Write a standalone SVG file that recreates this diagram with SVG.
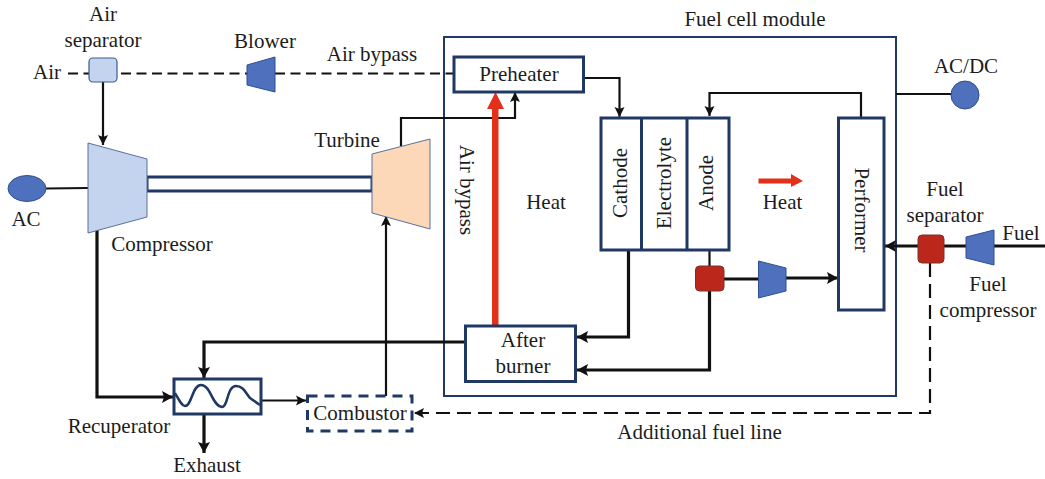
<svg xmlns="http://www.w3.org/2000/svg" width="1045" height="479" viewBox="0 0 1045 479">
<style>
text{font-family:"Liberation Serif","Times New Roman",serif;font-size:21px;fill:#1c1c1c;text-anchor:middle}
.box{fill:#fff;stroke:#1f3864;stroke-width:3}
.thin{fill:none;stroke:#1f3864;stroke-width:2}
.c{fill:none;stroke:#111;stroke-width:2.200}
.t{fill:none;stroke:#111;stroke-width:3.200}
.d{fill:none;stroke:#111;stroke-width:2.200;stroke-dasharray:10 5.500}
.d2{fill:none;stroke:#111;stroke-width:2.200;stroke-dasharray:14 7}
.blue{fill:#4f71bd;stroke:#2f4f8f;stroke-width:1}
.lb{fill:#c5d4ee;stroke:#3d5a8f;stroke-width:1.200}
.red{fill:#bb271a;stroke:#7a3030;stroke-width:1}
</style>
<defs>
<marker id="a" markerUnits="userSpaceOnUse" markerWidth="11" markerHeight="12" refX="10" refY="6" orient="auto"><path d="M0 1L10 6L0 11L2 6Z" fill="#111"/></marker>
<marker id="b" markerUnits="userSpaceOnUse" markerWidth="12" markerHeight="14" refX="11" refY="7" orient="auto"><path d="M0 1L11 7L0 13L2 7Z" fill="#111"/></marker>
</defs>
<g id="fuel-cell-module"><rect class="thin" x="444" y="37" width="452" height="359"/><text x="755" y="26">Fuel cell module</text></g>
<g id="connectors">
<path class="d" d="M68 73.500H89M121 73.500H247M275 73.500H454"/>
<path class="c" d="M103 82V145" marker-end="url(#a)"/>
<path class="c" d="M46 188.500L88 188"/>
<path class="c" d="M401 146V118H515V92" marker-end="url(#a)"/>
<path class="c" d="M584 78H619.500V117" marker-end="url(#a)"/>
<path class="c" d="M861 118V93H709.500V116" marker-end="url(#a)"/>
<path class="c" d="M896 94H952"/>
<path class="t" d="M1045 246H994M966 246H944M918 246H885" marker-end="url(#b)"/>
<path class="d2" d="M930 263V413H414" marker-end="url(#a)"/>
<path class="c" d="M709.500 250V266"/>
<path class="t" d="M709.500 291V370H577" marker-end="url(#b)"/>
<path class="t" d="M628.500 250V337H577" marker-end="url(#b)"/>
<path class="t" d="M724 279H758"/>
<path class="t" d="M786 278H838" marker-end="url(#b)"/>
<path class="t" d="M465 342H204V378" marker-end="url(#b)"/>
<path class="t" d="M97 229V397H173" marker-end="url(#b)"/>
<path class="c" d="M261 400.500H306" marker-end="url(#a)"/>
<path class="c" d="M386 396V216" marker-end="url(#a)"/>
<path class="t" d="M204 414V453" marker-end="url(#b)"/>
<path d="M492 326V109H487L495.500 92L504 109H498.500V326Z" fill="#e2301a"/>
<path d="M758.500 178.500H791V174L803 181L791 187V183.500H758.500Z" fill="#e2301a"/>
</g>
<g id="shaft"><rect class="box" x="147" y="177" width="225" height="14"/></g>
<g id="air-separator"><rect class="lb" x="89" y="58" width="28" height="24" rx="4"/><text x="103" y="21">Air</text><text x="103" y="47">separator</text></g>
<g id="air-label"><text x="47" y="79">Air</text></g>
<g id="blower"><polygon class="blue" points="247,65 275,57 275,92 247,85"/><text x="265" y="48">Blower</text></g>
<g id="air-bypass-label"><text x="372" y="61">Air bypass</text></g>
<g id="compressor"><polygon fill="#c5d4ee" stroke="#5a6f9f" points="88,143 147,159 147,217 88,233"/><text x="162" y="251">Compressor</text></g>
<g id="ac"><ellipse class="blue" cx="27" cy="188.500" rx="19" ry="13"/><text x="26" y="226">AC</text></g>
<g id="turbine"><polygon fill="#fdd8b8" stroke="#5a6f9f" points="372,154 430,139 430,229 372,213"/><text x="347" y="147">Turbine</text></g>
<g id="preheater"><rect class="box" x="454" y="57" width="129.500" height="35"/><text x="519" y="81">Preheater</text></g>
<g id="air-bypass-vertical"><text transform="translate(460 190) rotate(90)">Air bypass</text></g>
<g id="heat-left"><text x="546" y="209">Heat</text></g>
<g id="cell"><rect class="box" x="601" y="118" width="128" height="132"/><path class="box" d="M641.500 118V250M687 118V250"/>
<text transform="translate(627 183) rotate(-90)">Cathode</text><text transform="translate(670.500 183) rotate(-90)">Electrolyte</text><text transform="translate(713 183) rotate(-90)">Anode</text></g>
<g id="heat-right"><text x="782.500" y="209">Heat</text></g>
<g id="performer"><rect class="box" x="838.500" y="118" width="45.500" height="192"/><text transform="translate(855 210) rotate(90)">Performer</text></g>
<g id="ac-dc"><circle class="blue" cx="965" cy="95" r="14"/><text x="966" y="73">AC/DC</text></g>
<g id="fuel-separator"><rect class="red" x="918" y="235" width="26" height="28" rx="4"/><text x="945" y="196">Fuel</text><text x="945" y="222">separator</text></g>
<g id="fuel-compressor"><polygon class="blue" points="966,237 994,230 994,265 966,258"/><text x="988" y="291">Fuel</text><text x="988" y="317">compressor</text></g>
<g id="fuel-label"><text x="1021" y="240">Fuel</text></g>
<g id="anode-separator"><rect class="red" x="695.500" y="266" width="28.500" height="25" rx="4"/></g>
<g id="anode-compressor"><polygon class="blue" points="758.500,261 786,268 786,291 758.500,298"/></g>
<g id="after-burner"><rect class="box" x="465.500" y="326" width="110" height="55.500"/><text x="523" y="347">After</text><text x="523" y="373">burner</text></g>
<g id="recuperator"><rect class="box" x="174" y="379" width="87" height="35"/><path d="M175 393C179 400 182 406 185 406C192 406 192 385 201 385C211 385 212 406 222 407C228 407 227 386 236 386C244 386 246 394 250 398C254 401 257 403 260 405" fill="none" stroke="#1f3864" stroke-width="2.500"/><text x="119" y="433">Recuperator</text></g>
<g id="exhaust"><text x="207" y="472">Exhaust</text></g>
<g id="combustor"><rect x="307.500" y="396" width="104.500" height="35" fill="#fff" stroke="#1f3864" stroke-width="3" stroke-dasharray="10 7"/><text x="360" y="420">Combustor</text></g>
<g id="additional-fuel-label"><text x="699.500" y="439">Additional fuel line</text></g>
</svg>
